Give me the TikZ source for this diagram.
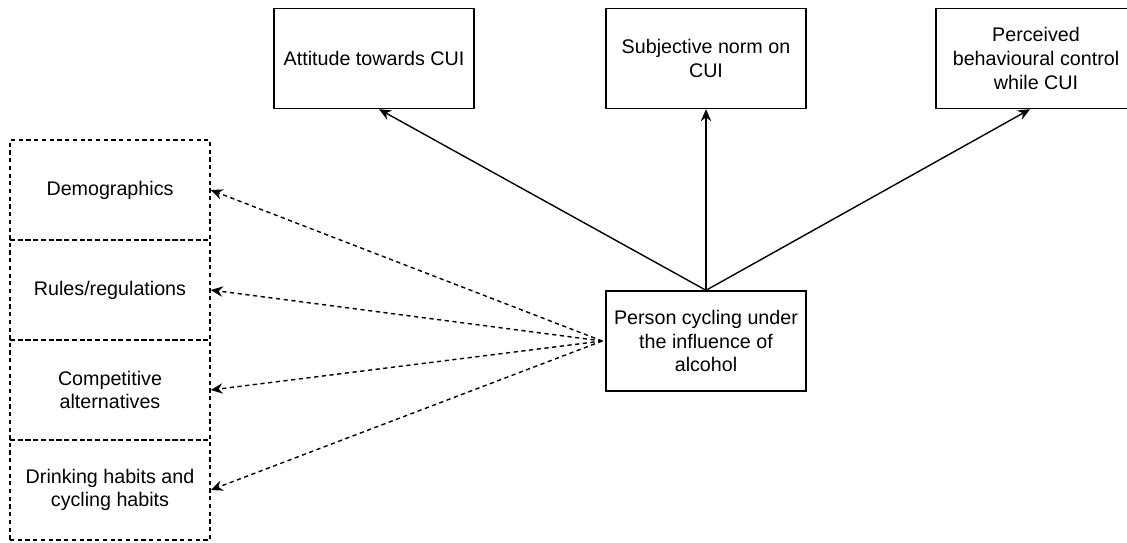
\documentclass[tikz,border=0pt]{standalone}
\usepackage{fontspec}
\setmainfont{Liberation Sans}
\usepackage{tikz}
\usetikzlibrary{arrows.meta,calc,positioning}

\newcommand{\diagfont}{\fontsize{14}{16.8}\selectfont}

\begin{document}
\begin{tikzpicture}[x=0.025cm,y=-0.025cm,line width=1pt,
    box/.style={draw=black,minimum width=5cm,minimum height=2.5cm,align=center,font=\diagfont},
    factor/.style={box,dash pattern=on 3pt off 2.5pt},
    >={Stealth[length=3mm,width=2.6mm]}]

    \useasboundingbox (0,0) rectangle (1127,542);

    \node (attitude)   [box] at (374,58.5)  {Attitude towards CUI};
    \node (norm)       [box] at (706,58.5)  {Subjective norm on\\CUI};
    \node (control)    [box] at (1036,58.5) {Perceived\\behavioural control\\while CUI};
    \node (person)     [box] at (706,341)   {Person cycling under\\the influence of\\alcohol};

    \node (demo)       [factor] at (110,190) {Demographics};
    \node (rules)      [factor] at (110,290) {Rules/regulations};
    \node (compet)     [factor] at (110,390) {Competitive\\alternatives};
    \node (habits)     [factor] at (110,490) {Drinking habits and\\cycling habits};

    \draw [->] (person.north) -- ($(attitude.south)+(5,0)$);
    \draw [->] (person.north) -- (norm.south);
    \draw [->] (person.north) -- ($(control.south)+(-6,0)$);

    \coordinate (fan) at ($(person.west)+(-3,0)$);
    \draw [->,dash pattern=on 3pt off 2.5pt] (fan) -- (demo.east);
    \draw [->,dash pattern=on 3pt off 2.5pt] (fan) -- (rules.east);
    \draw [->,dash pattern=on 3pt off 2.5pt] (fan) -- (compet.east);
    \draw [->,dash pattern=on 3pt off 2.5pt] (fan) -- (habits.east);

\end{tikzpicture}
\end{document}
